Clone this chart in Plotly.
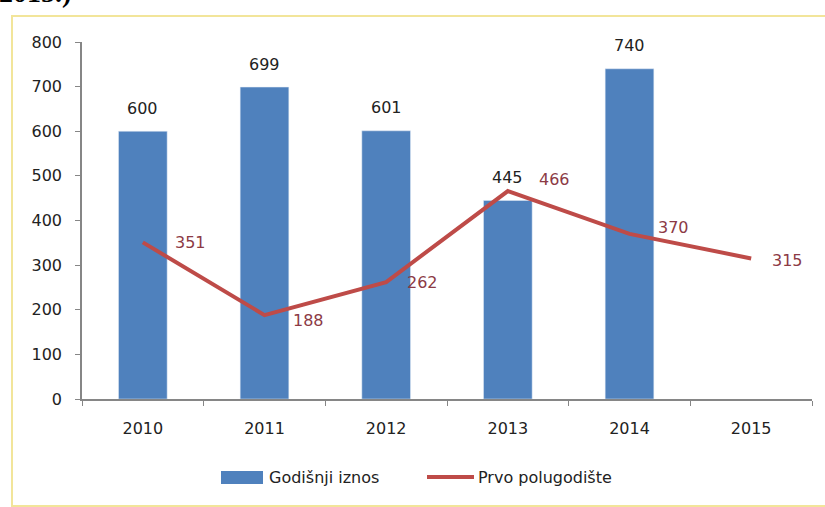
import plotly.graph_objects as go

years = ["2010", "2011", "2012", "2013", "2014", "2015"]
annual = [600, 699, 601, 445, 740, None]
half_year = [351, 188, 262, 466, 370, 315]
series_names = ["Godišnji iznos", "Prvo polugodište"]
y_ticks = [0, 100, 200, 300, 400, 500, 600, 700, 800]

# label nudges for the line labels (pixels, style only)
line_label_dx = [48, 44, 36, 47, 44, 36]
line_label_dy = [0, -5, 0, 12, 6, -2]

BLUE = "#4F81BD"
RED = "#BE4B48"
LABEL_RED = "#8C3A45"
AXIS = "#868686"
TXT = "#222222"
FONT = "DejaVu Sans, sans-serif"
FS = 16

# plot area in pixels (for converting overlay positions to paper coords)
L, R, T, B = 82, 812, 42, 399
W, H = 825, 507
def px(x):
    return (x - L) / (R - L)
def py(y):
    return (B - y) / (B - T)

xi = list(range(len(years)))

fig = go.Figure()
fig.add_trace(go.Bar(x=xi, y=annual, marker_color=BLUE, name=series_names[0],
                     showlegend=False))
fig.add_trace(go.Scatter(x=xi, y=half_year, mode="lines", name=series_names[1],
                         line=dict(color=RED, width=4), showlegend=False))

annotations = []
for i, v in zip(xi, annual):
    if v is None:
        continue
    annotations.append(dict(x=i, y=v, text=str(v), showarrow=False, yanchor="middle",
                            yshift=23, font=dict(color=TXT, size=FS, family=FONT)))
for i, v in zip(xi, half_year):
    annotations.append(dict(x=i, y=v, text=str(v), showarrow=False, xanchor="center",
                            yanchor="middle", xshift=line_label_dx[i], yshift=line_label_dy[i],
                            font=dict(color=LABEL_RED, size=FS, family=FONT)))

# legend (custom, drawn in pixel positions)
annotations.append(dict(xref="paper", yref="paper", x=px(267), y=py(477), text=series_names[0],
                        showarrow=False, xanchor="left", yanchor="middle",
                        font=dict(color=TXT, size=FS, family=FONT)))
annotations.append(dict(xref="paper", yref="paper", x=px(476), y=py(477), text=series_names[1],
                        showarrow=False, xanchor="left", yanchor="middle",
                        font=dict(color=TXT, size=FS, family=FONT)))
# cut-off heading text above the chart frame
annotations.append(dict(xref="paper", yref="paper", x=px(-3), y=py(10), text="<b>2015.)</b>",
                        showarrow=False, xanchor="left", yanchor="bottom",
                        font=dict(color="#000000", size=28, family="Liberation Serif, serif")))

shapes = [
    dict(type="rect", xref="paper", yref="paper", x0=px(12), x1=px(830), y0=py(506), y1=py(16),
         line=dict(color="#F2E59A", width=2), fillcolor="rgba(0,0,0,0)", layer="below"),
    dict(type="rect", xref="paper", yref="paper", x0=px(221), x1=px(263), y0=py(484), y1=py(471),
         line=dict(width=0), fillcolor=BLUE),
    dict(type="line", xref="paper", yref="paper", x0=px(427), x1=px(474), y0=py(477), y1=py(477),
         line=dict(color=RED, width=4)),
]

fig.update_layout(
    width=W, height=H,
    margin=dict(l=L, r=W - R, t=T, b=H - B, autoexpand=False),
    paper_bgcolor="white", plot_bgcolor="white",
    bargap=0.6,
    font=dict(family=FONT, size=FS, color=TXT),
    annotations=annotations, shapes=shapes,
    showlegend=False,
)
fig.update_xaxes(range=[-0.5, len(years) - 0.5], tickvals=xi, ticktext=years,
                 showline=True, linecolor=AXIS, linewidth=1.5, ticks="", ticklabelstandoff=14,
                 minor=dict(ticks="outside", tick0=-0.5, dtick=1, ticklen=5, tickcolor=AXIS,
                            showgrid=False),
                 showgrid=False, zeroline=False, tickfont=dict(size=FS, color=TXT))
fig.update_yaxes(range=[0, 800], tickvals=y_ticks, showline=True, linecolor=AXIS,
                 linewidth=1.5, ticks="outside", ticklen=5, tickcolor=AXIS, ticklabelstandoff=10,
                 showgrid=False, zeroline=False, tickfont=dict(size=FS, color=TXT))

fig.write_html("out.html", config={"displayModeBar": False},
               post_script="document.body.style.margin='0';"
               "document.body.style.overflow='hidden';")
